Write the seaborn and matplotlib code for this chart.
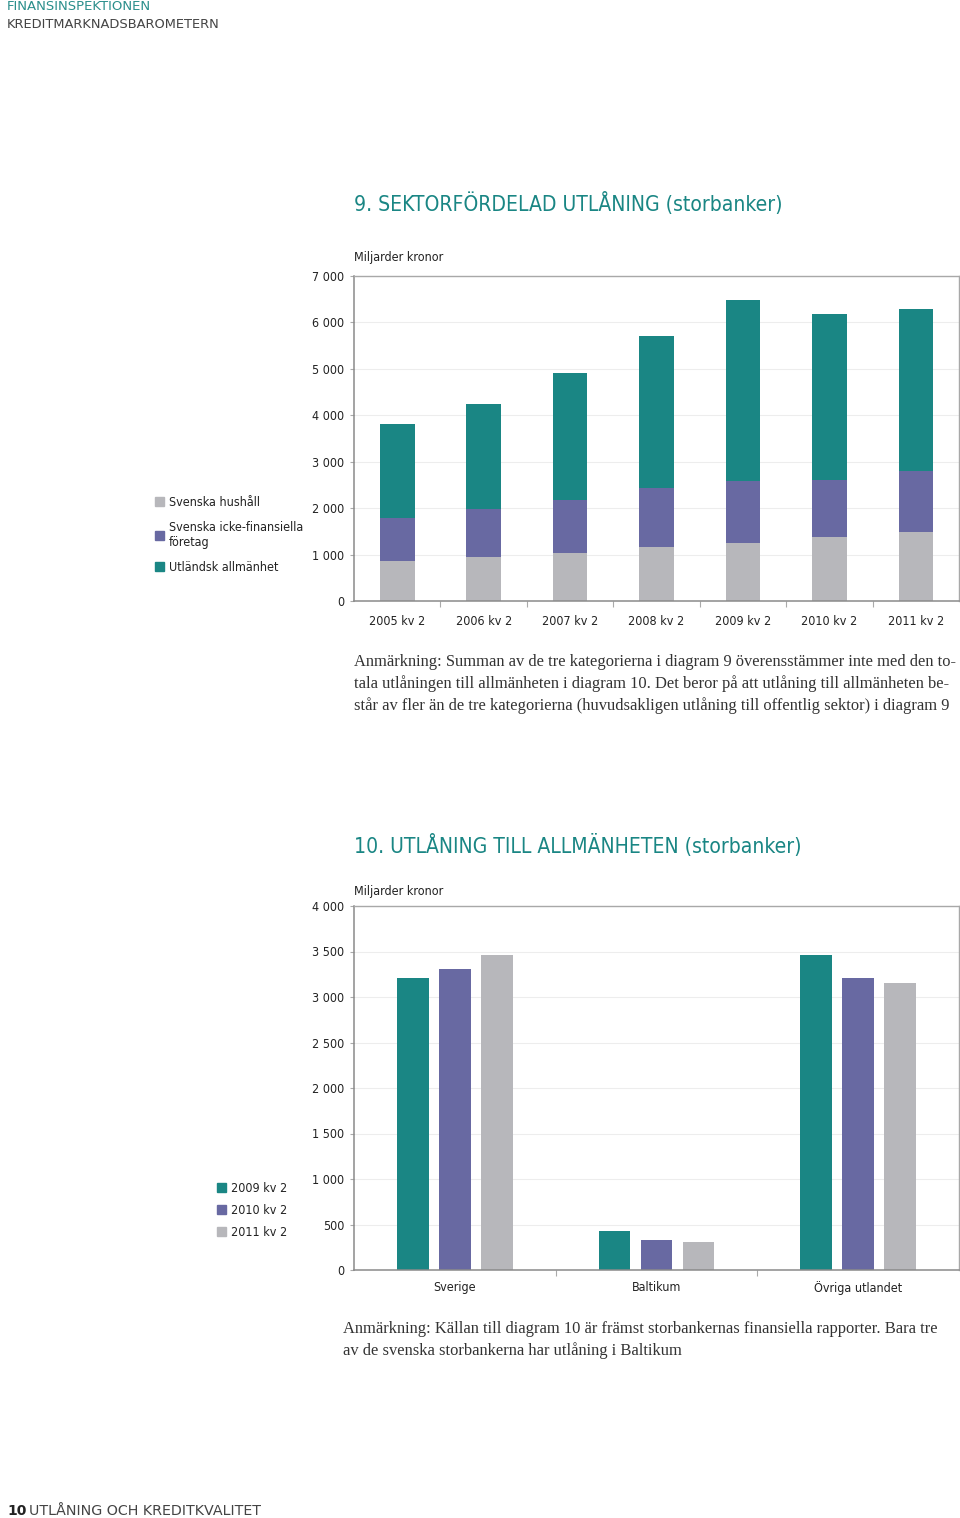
import numpy as np
import pandas as pd
import seaborn as sns
import matplotlib.pyplot as plt
from matplotlib.patches import Patch
from matplotlib.ticker import FuncFormatter

# Diagram 9 - sektorfördelad utlåning (miljarder kronor)
perioder = ["2005 kv 2", "2006 kv 2", "2007 kv 2", "2008 kv 2", "2009 kv 2", "2010 kv 2", "2011 kv 2"]
hushall = [860, 945, 1040, 1160, 1260, 1380, 1480]
foretag = [930, 1030, 1130, 1275, 1325, 1235, 1325]
utlandsk = [2030, 2270, 2740, 3275, 3905, 3575, 3480]

# Diagram 10 - utlåning till allmänheten
regioner = ["Sverige", "Baltikum", "Övriga utlandet"]
ar = ["2009 kv 2", "2010 kv 2", "2011 kv 2"]
v2009 = [3210, 430, 3465]
v2010 = [3310, 325, 3210]
v2011 = [3465, 305, 3150]

teal = "#1a8684"
lila = "#6869a2"
gra = "#b7b7bb"

sns.set_theme(style="white")
plt.rcParams["font.family"] = ["DejaVu Sans"]
plt.rcParams["font.stretch"] = "condensed"
plt.rcParams["text.color"] = "#222222"

W, H = 960, 1518
def fx(x): return x / W
def fy(y): return 1 - y / H

fig = plt.figure(figsize=(9.6, 15.18), dpi=100)
fig.patch.set_facecolor("white")

# sidhuvud
fig.text(fx(7), fy(7), "FINANSINSPEKTIONEN", color="#2b8f8c", fontsize=9.5,
         va="center", fontstretch="normal")
fig.text(fx(7), fy(24), "KREDITMARKNADSBAROMETERN", color="#444444", fontsize=9.4,
         va="center", fontstretch="normal")
fig.text(fx(7), fy(1511), "10", color="#222222", fontsize=10, fontweight="bold",
         va="center", fontstretch="normal")
fig.text(fx(29), fy(1511), "UTLÅNING OCH KREDITKVALITET", color="#444444",
         fontsize=10.3, va="center", fontstretch="normal")

def fix_axes(ax, ymax, step):
    ax.set_ylim(0, ymax)
    ax.set_yticks(np.arange(0, ymax + 1, step))
    ax.yaxis.set_major_formatter(FuncFormatter(lambda v, p: f"{int(v):,}".replace(",", " ")))
    ax.yaxis.grid(True, color="#ededed", lw=0.8)
    ax.set_axisbelow(True)
    for s in ["left", "bottom"]:
        ax.spines[s].set_color("#8a8a8a")
        ax.spines[s].set_linewidth(1.1)
    for s in ["top", "right"]:
        ax.spines[s].set_color("#a8a8a8")
        ax.spines[s].set_linewidth(1.0)
    ax.set_xlabel("")
    ax.set_ylabel("")
    ax.tick_params(axis="y", left=True, length=3, width=0.8, color="#aaaaaa", pad=4,
                   labelsize=9, labelcolor="#222222")
    ax.tick_params(axis="x", which="major", length=0, labelsize=9, labelcolor="#222222")
    ax.tick_params(axis="x", which="minor", bottom=True, length=4, width=0.8, color="#aaaaaa")

# ---- Diagram 9 ----
fig.text(fx(354), fy(203), "9. SEKTORFÖRDELAD UTLÅNING (storbanker)", color=teal,
         fontsize=15.1, va="center")
fig.text(fx(354), fy(257), "Miljarder kronor", fontsize=9, va="center")

df9 = pd.DataFrame({"period": perioder, "hushall": hushall,
                    "foretag": foretag, "utlandsk": utlandsk})
df9["steg2"] = df9["hushall"] + df9["foretag"]
df9["total"] = df9["steg2"] + df9["utlandsk"]

ax1 = fig.add_axes([fx(354), fy(601), 605 / W, 325 / H])
for col, c in [("total", teal), ("steg2", lila), ("hushall", gra)]:
    sns.barplot(data=df9, x="period", y=col, color=c, width=0.4, saturation=1,
                linewidth=0, ax=ax1)
fix_axes(ax1, 7000, 1000)
ax1.set_xlim(-0.5, len(perioder) - 0.5)
ax1.set_xticks(np.arange(0.5, len(perioder) - 1, 1), minor=True)
ax1.tick_params(axis="x", which="major", pad=10)

h1 = [Patch(color=gra), Patch(color=lila), Patch(color=teal)]
fig.legend(h1, ["Svenska hushåll", "Svenska icke-finansiella\nföretag", "Utländsk allmänhet"],
           loc="upper left", bbox_to_anchor=(fx(150), fy(491)), frameon=False,
           fontsize=9, handlelength=0.7, handleheight=0.7, handletextpad=0.4,
           labelspacing=0.95, borderaxespad=0)

serif = dict(fontsize=11.85, va="center", family="Liberation Serif", color="#333333")
fig.text(fx(354), fy(662), "Anmärkning: Summan av de tre kategorierna i diagram 9 överensstämmer inte med den to-", **serif)
fig.text(fx(354), fy(684), "tala utlåningen till allmänheten i diagram 10. Det beror på att utlåning till allmänheten be-", **serif)
fig.text(fx(354), fy(706), "står av fler än de tre kategorierna (huvudsakligen utlåning till offentlig sektor) i diagram 9", **serif)

# ---- Diagram 10 ----
fig.text(fx(354), fy(845), "10. UTLÅNING TILL ALLMÄNHETEN (storbanker)", color=teal,
         fontsize=15.1, va="center")
fig.text(fx(354), fy(892), "Miljarder kronor", fontsize=9, va="center")

df10 = pd.DataFrame({
    "region": regioner * 3,
    "period": [a for a in ar for _ in regioner],
    "varde": v2009 + v2010 + v2011,
})

ax2 = fig.add_axes([fx(354), fy(1270), 605 / W, 364 / H])
sns.barplot(data=df10, x="region", y="varde", hue="period", palette=[teal, lila, gra],
            width=0.625, gap=0.25, saturation=1, linewidth=0, legend=False, ax=ax2)
fix_axes(ax2, 4000, 500)
ax2.set_xlim(-0.5, len(regioner) - 0.5)
ax2.set_xticks(np.arange(0.5, len(regioner) - 1, 1), minor=True)
ax2.tick_params(axis="x", which="major", pad=8)

h2 = [Patch(color=teal), Patch(color=lila), Patch(color=gra)]
fig.legend(h2, ar, loc="upper left", bbox_to_anchor=(fx(212), fy(1177)), frameon=False,
           fontsize=9, handlelength=0.7, handleheight=0.7, handletextpad=0.45,
           labelspacing=0.72, borderaxespad=0)

fig.text(fx(343), fy(1329), "Anmärkning: Källan till diagram 10 är främst storbankernas finansiella rapporter. Bara tre", **serif)
fig.text(fx(343), fy(1351), "av de svenska storbankerna har utlåning i Baltikum", **serif)

fig.savefig("out.png", dpi=100, facecolor="white")
